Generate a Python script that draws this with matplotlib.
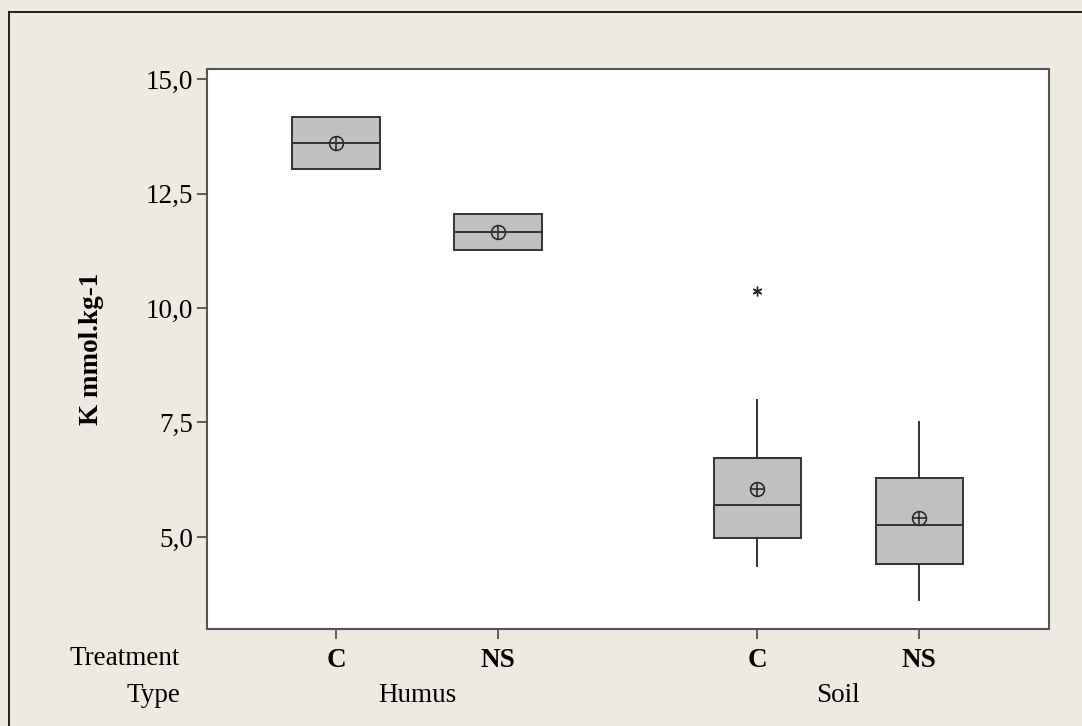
import matplotlib
matplotlib.use("Agg")
import matplotlib.pyplot as plt
from matplotlib.lines import Line2D

# box statistics (K mmol.kg-1)
types = ["Humus", "Humus", "Soil", "Soil"]
treatments = ["C", "NS", "C", "NS"]
positions = [1.0, 2.0, 3.6, 4.6]
q1 = [13.03, 11.27, 4.97, 4.41]
med = [13.60, 11.66, 5.70, 5.26]
q3 = [14.17, 12.05, 6.73, 6.29]
whislo = [13.03, 11.27, 4.37, 3.62]
whishi = [14.17, 12.05, 7.99, 7.51]
means = [13.60, 11.66, 6.05, 5.41]
outliers = [[], [], [10.38], []]

yticks = [5.0, 7.5, 10.0, 12.5, 15.0]
ytick_labels = ["5,0", "7,5", "10,0", "12,5", "15,0"]

bg = "#eeeae2"
edge = "#333333"
fs = 19.5
plt.rcParams["font.family"] = ["Liberation Serif", "DejaVu Serif"]

fig = plt.figure(figsize=(10.82, 7.26), dpi=100, facecolor=bg)
ax = fig.add_axes([207 / 1082, 1 - 629 / 726, 842 / 1082, 560 / 726])
ax.set_facecolor("white")

stats = []
for i in range(len(positions)):
    stats.append({"q1": q1[i], "med": med[i], "q3": q3[i],
                  "whislo": whislo[i], "whishi": whishi[i],
                  "fliers": outliers[i], "mean": means[i]})

ax.bxp(stats, positions=positions, widths=0.54, patch_artist=True,
       showcaps=False, showmeans=False,
       boxprops=dict(facecolor="#c0c0c0", edgecolor=edge, linewidth=1.4),
       medianprops=dict(color=edge, linewidth=1.4),
       whiskerprops=dict(color=edge, linewidth=1.4),
       flierprops=dict(marker=(6, 2, 0), markersize=7, markeredgecolor="#222222",
                       markeredgewidth=1.0))

# circle-cross mean symbol
ax.plot(positions, means, linestyle="none", marker="o", markersize=10,
        markerfacecolor="none", markeredgecolor="#222222", markeredgewidth=1.1)
ax.plot(positions, means, linestyle="none", marker="+", markersize=10,
        markeredgecolor="#222222", markeredgewidth=1.1)

ax.set_xlim(0.204, 5.4)
ax.set_ylim(2.99, 15.22)
ax.set_yticks(yticks)
ax.set_yticklabels(ytick_labels, fontsize=fs)
ax.set_xticks(positions)
ax.set_xticklabels(treatments, fontsize=fs, fontweight="bold")
ax.tick_params(direction="out", length=7, width=1.2, color="#444444", pad=3)
ax.tick_params(axis="x", pad=7)
for s in ax.spines.values():
    s.set_color("#555555")
    s.set_linewidth(1.5)

ax.set_ylabel("K mmol.kg-1", fontsize=fs, fontweight="bold")
ax.yaxis.set_label_coords(-0.122, 0.5)

# row titles and group labels under the axis
ax.text(-0.032, -0.052, "Treatment", transform=ax.transAxes, ha="right",
        va="center", fontsize=fs)
ax.text(-0.032, -0.118, "Type", transform=ax.transAxes, ha="right",
        va="center", fontsize=fs)
xt = ax.get_xaxis_transform()
for name in ["Humus", "Soil"]:
    xs = [p for p, t in zip(positions, types) if t == name]
    ax.text(sum(xs) / len(xs), -0.118, name, transform=xt, ha="center",
            va="center", fontsize=fs)

# outer frame (only top and left edges fall inside the image)
fig.add_artist(Line2D([9 / 1082, 1.0], [1 - 12 / 726, 1 - 12 / 726],
                      color="#111111", linewidth=1.3, transform=fig.transFigure))
fig.add_artist(Line2D([9 / 1082, 9 / 1082], [0.0, 1 - 12 / 726],
                      color="#111111", linewidth=1.3, transform=fig.transFigure))

fig.savefig("out.png", dpi=100, facecolor=bg)
